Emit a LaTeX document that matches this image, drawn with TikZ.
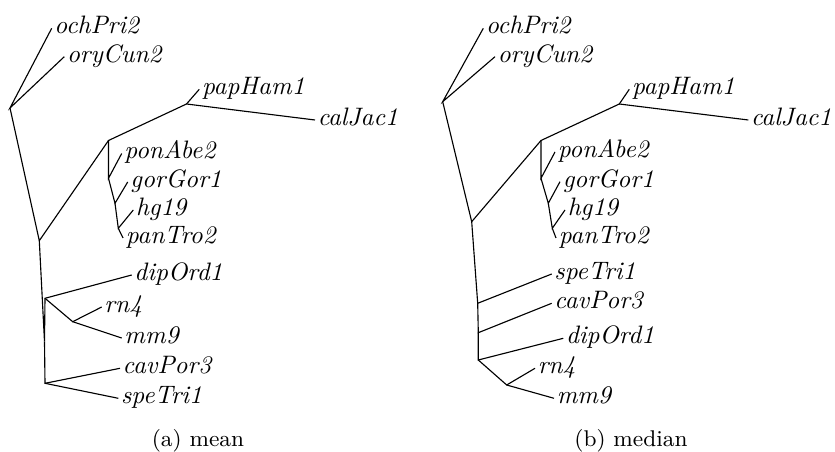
\documentclass[tikz,border=0pt]{standalone}
\begin{document}
\begin{tikzpicture}[x=0.4pt,y=-0.4pt,
  br/.style={line width=0.45pt},
  leaf/.style={anchor=mid west, inner xsep=0.9pt, inner ysep=0pt, font=\fontsize{10.1}{12}\selectfont\itshape},
  capt/.style={anchor=base, inner sep=0pt, font=\fontsize{9.1}{11}\selectfont}]
\useasboundingbox (0,0) rectangle (835,452);
% ---------- (a) mean ----------
\coordinate (R) at (10,108);
\coordinate (B) at (39.3,240.7);
\coordinate (A) at (108.5,140.5);
\coordinate (P) at (186.5,104);
\coordinate (G) at (108.5,178.3);
\coordinate (H) at (115,203.3);
\coordinate (C) at (118.3,228.3);
\coordinate (X) at (44.5,341.7);
\coordinate (D) at (45,298.3);
\coordinate (M) at (72.7,321.7);
\coordinate (E) at (45,383.3);
\coordinate (och) at (51.7,28.3);
\coordinate (ory) at (64.3,56.7);
\coordinate (pap) at (199.3,89.3);
\coordinate (cal) at (315,120);
\coordinate (pon) at (121.7,153.5);
\coordinate (gor) at (127.7,182);
\coordinate (hg) at (133.3,210);
\coordinate (pan) at (123,238);
\coordinate (dip) at (131.7,275);
\coordinate (rn) at (101.7,307);
\coordinate (mm) at (121.7,338);
\coordinate (cav) at (120,368.3);
\coordinate (spe) at (118.3,398.3);
\node[leaf] (Loch) at (och) {ochPri2};
\node[leaf] (Lory) at (ory) {oryCun2};
\node[leaf] (Lpap) at (pap) {papHam1};
\node[leaf] (Lcal) at (cal) {calJac1};
\node[leaf] (Lpon) at (pon) {ponAbe2};
\node[leaf] (Lgor) at (gor) {gorGor1};
\node[leaf] (Lhg) at (hg) {hg19};
\node[leaf] (Lpan) at (pan) {panTro2};
\node[leaf] (Ldip) at (dip) {dipOrd1};
\node[leaf] (Lrn) at (rn) {rn4};
\node[leaf] (Lmm) at (mm) {mm9};
\node[leaf] (Lcav) at (cav) {cavPor3};
\node[leaf] (Lspe) at (spe) {speTri1};
\draw[br] (och) -- (R) -- (ory);
\draw[br] (R) -- (B) -- (A) -- (P) -- (pap);
\draw[br] (P) -- (cal);
\draw[br] (A) -- (G) -- (pon);
\draw[br] (G) -- (H) -- (gor);
\draw[br] (H) -- (C) -- (hg);
\draw[br] (C) -- (pan);
\draw[br] (B) -- (X) -- (D) -- (dip);
\draw[br] (D) -- (M) -- (rn);
\draw[br] (M) -- (mm);
\draw[br] (X) -- (E) -- (cav);
\draw[br] (E) -- (spe);
\node[capt] (capA) at (198,447) {(a) mean};
% ---------- (b) median ----------
\coordinate (R2) at (442.7,101.7);
\coordinate (B2) at (471.7,221.7);
\coordinate (A2) at (541,140.5);
\coordinate (P2) at (619.3,104);
\coordinate (G2) at (541,178.3);
\coordinate (H2) at (548.3,203.3);
\coordinate (C2) at (552.3,228.3);
\coordinate (S1) at (477.7,303.3);
\coordinate (S2) at (478.3,332.7);
\coordinate (S3) at (478.3,360);
\coordinate (M2) at (506.7,385);
\coordinate (och2) at (483.3,28.3);
\coordinate (ory2) at (495,56.7);
\coordinate (pap2) at (629.3,89.3);
\coordinate (cal2) at (748.3,120);
\coordinate (pon2) at (555,152);
\coordinate (gor2) at (560,181.7);
\coordinate (hg2) at (565,210);
\coordinate (pan2) at (556,238);
\coordinate (spe2) at (551.7,274);
\coordinate (cav2) at (551.7,303.3);
\coordinate (dip2) at (563.3,338.3);
\coordinate (rn2) at (535,368.3);
\coordinate (mm2) at (554,398.3);
\node[leaf] (Loch2) at (och2) {ochPri2};
\node[leaf] (Lory2) at (ory2) {oryCun2};
\node[leaf] (Lpap2) at (pap2) {papHam1};
\node[leaf] (Lcal2) at (cal2) {calJac1};
\node[leaf] (Lpon2) at (pon2) {ponAbe2};
\node[leaf] (Lgor2) at (gor2) {gorGor1};
\node[leaf] (Lhg2) at (hg2) {hg19};
\node[leaf] (Lpan2) at (pan2) {panTro2};
\node[leaf] (Lspe2) at (spe2) {speTri1};
\node[leaf] (Lcav2) at (cav2) {cavPor3};
\node[leaf] (Ldip2) at (dip2) {dipOrd1};
\node[leaf] (Lrn2) at (rn2) {rn4};
\node[leaf] (Lmm2) at (mm2) {mm9};
\draw[br] (och2) -- (R2) -- (ory2);
\draw[br] (R2) -- (B2) -- (A2) -- (P2) -- (pap2);
\draw[br] (P2) -- (cal2);
\draw[br] (A2) -- (G2) -- (pon2);
\draw[br] (G2) -- (H2) -- (gor2);
\draw[br] (H2) -- (C2) -- (hg2);
\draw[br] (C2) -- (pan2);
\draw[br] (B2) -- (S1) -- (spe2);
\draw[br] (S1) -- (S2) -- (cav2);
\draw[br] (S2) -- (S3) -- (dip2);
\draw[br] (S3) -- (M2) -- (rn2);
\draw[br] (M2) -- (mm2);
\node[capt] (capB) at (631,447) {(b) median};
\end{tikzpicture}
\end{document}
